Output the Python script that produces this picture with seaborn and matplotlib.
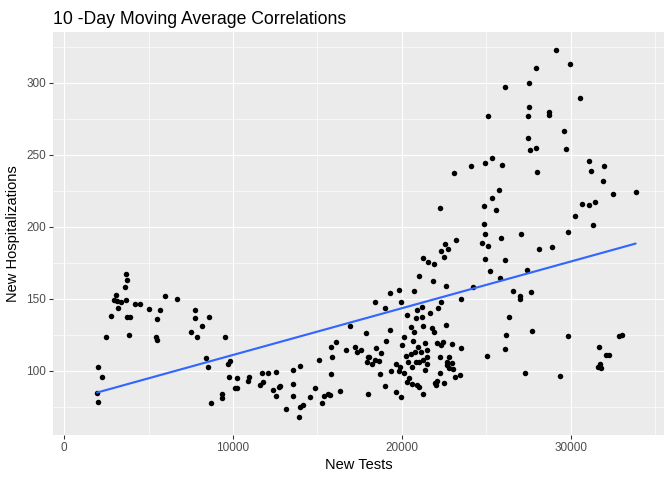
import numpy as np
import pandas as pd
import seaborn as sns
import matplotlib
matplotlib.use("Agg")
import matplotlib.pyplot as plt
from matplotlib.ticker import MultipleLocator

new_tests = [
    3670, 3730, 3610, 3080, 2940, 3140, 3370, 3670, 3200, 2780,
    3730, 3890, 3850, 2490, 4200, 4500, 5030, 5980, 6690, 5680,
    5500, 5440, 5500, 7750, 7750, 8580, 7520, 8170, 7870, 9530,
    8400, 8520, 8700, 9350, 9350, 9730, 9810, 9760, 2010, 2250,
    1950, 2010, 10240, 10120, 10240, 10950, 10890, 11720, 12070, 12540,
    11780, 11600, 12370, 12540, 12780, 12720, 13550, 13960, 13550, 13550,
    13140, 13910, 13960, 14140, 14560, 14850, 15090, 15270, 15380, 15620,
    15740, 15800, 15860, 15800, 16090, 16330, 16690, 16920, 17220, 17340,
    17570, 17870, 17930, 17990, 17990, 23200, 22540, 22310, 22720, 22490,
    21240, 21540, 21890, 21010, 21830, 22600, 19290, 19820, 20710, 24200,
    23490, 18400, 19940, 22310, 18990, 21180, 20890, 22130, 20300, 20830,
    21180, 21660, 19290, 20530, 20710, 21240, 21780, 21890, 22600, 20120,
    19050, 20000, 20650, 21360, 22070, 22310, 22430, 22960, 23490, 18460,
    18760, 20950, 21120, 21480, 20240, 20530, 20770, 18050, 18220, 18400,
    18640, 20350, 20830, 21010, 21240, 21480, 21480, 22250, 22780, 22660,
    22660, 22960, 22780, 23020, 19640, 19880, 19820, 20120, 20590, 21360,
    22250, 19350, 18700, 20410, 20300, 20590, 20890, 21010, 22070, 21950,
    22010, 22490, 23140, 23430, 18990, 19640, 19940, 21240, 29110, 29940,
    27930, 27510, 26090, 30530, 27510, 27460, 28700, 28700, 25090, 29590,
    27460, 27930, 27570, 29700, 25330, 24910, 25920, 24110, 27990, 31060,
    25740, 25330, 24850, 25560, 30650, 30240, 24850, 24910, 25860, 27040,
    29820, 31060, 24730, 25090, 28110, 28880, 24910, 26090, 25210, 27400,
    25800, 26570, 27630, 26980, 26980, 26330, 27690, 26150, 29820, 26090,
    25030, 27280, 29350, 31950, 31180, 31890, 32480, 33850, 31420, 31300,
    32840, 33020, 31660, 32070, 32250, 31600, 31720, 31770, 23080, 22250,
]

new_hosp = [
    167.2, 163.0, 158.1, 152.6, 149.1, 148.4, 147.7, 149.1, 143.6, 138.0,
    137.3, 137.3, 124.8, 123.4, 146.3, 146.3, 142.9, 151.9, 149.8, 142.2,
    135.9, 123.4, 121.3, 142.2, 136.6, 137.3, 126.9, 131.1, 123.4, 123.4,
    108.8, 102.6, 77.6, 83.8, 81.1, 104.9, 106.7, 95.6, 102.6, 95.6,
    84.5, 78.3, 94.9, 88.0, 88.0, 95.6, 92.9, 98.4, 98.4, 99.1,
    92.2, 90.1, 86.6, 82.4, 89.4, 88.7, 100.5, 103.3, 90.8, 82.4,
    73.4, 67.9, 74.8, 76.2, 81.7, 88.0, 107.4, 77.6, 82.4, 83.8,
    83.1, 97.7, 109.5, 116.5, 119.9, 85.9, 114.4, 131.1, 116.5, 113.0,
    114.4, 126.2, 106.1, 109.5, 83.8, 190.8, 188.0, 183.1, 184.5, 179.0,
    178.3, 175.5, 174.1, 165.8, 162.3, 158.8, 154.0, 156.1, 155.4, 158.1,
    149.8, 147.7, 147.7, 147.7, 143.6, 144.2, 142.2, 143.6, 138.7, 136.6,
    137.3, 140.1, 128.3, 130.4, 126.9, 131.1, 129.7, 126.9, 131.7, 123.4,
    120.6, 117.9, 120.6, 119.2, 119.2, 117.9, 119.9, 118.6, 115.8, 115.8,
    112.3, 116.5, 113.0, 114.4, 110.2, 111.6, 113.0, 109.5, 104.7, 107.4,
    106.7, 106.1, 106.1, 106.1, 107.4, 109.5, 104.7, 109.5, 109.5, 106.1,
    104.0, 105.4, 101.9, 101.2, 104.7, 102.6, 99.8, 98.4, 102.6, 100.5,
    98.4, 99.8, 97.7, 94.9, 92.2, 90.8, 90.1, 88.7, 92.9, 91.5,
    90.1, 91.5, 95.6, 97.0, 89.4, 85.2, 81.7, 83.8, 322.7, 313.0,
    310.2, 299.8, 297.0, 289.4, 283.1, 276.9, 279.7, 277.6, 276.9, 266.5,
    261.6, 254.7, 253.3, 254.0, 247.7, 244.2, 242.8, 242.2, 238.0, 245.6,
    225.5, 219.9, 214.4, 211.6, 215.8, 207.4, 201.9, 194.9, 192.2, 194.9,
    196.3, 215.1, 188.7, 186.6, 184.5, 185.9, 177.6, 176.9, 169.2, 169.9,
    164.4, 155.4, 154.7, 151.9, 149.8, 137.3, 127.6, 124.8, 124.1, 115.1,
    110.2, 98.4, 96.3, 242.2, 238.7, 231.7, 222.7, 224.1, 217.2, 201.2,
    124.1, 124.8, 116.5, 110.9, 110.9, 102.6, 104.7, 101.9, 237.3, 213.0,
]

x_ticks = [0, 10000, 20000, 30000]
x_tick_labels = ["0", "10000", "20000", "30000"]
y_ticks = [100, 150, 200, 250, 300]
y_tick_labels = ["100", "150", "200", "250", "300"]

title = "10 -Day Moving Average Correlations"
x_label = "New Tests"
y_label = "New Hospitalizations"

sns.set_theme(style="darkgrid")
plt.rcParams['font.family'] = ['Liberation Sans', 'DejaVu Sans']

df = pd.DataFrame({"tests": new_tests, "hosp": new_hosp})

W, H = 672, 480
fig = plt.figure(figsize=(W / 96, H / 96), dpi=96)
left, right, top, bottom = 52.7, 664.0, 32.0, 435.0
ax = fig.add_axes([left / W, 1 - bottom / H, (right - left) / W, (bottom - top) / H])
ax.set_facecolor("#EBEBEB")

sns.regplot(
    data=df, x="tests", y="hosp", ax=ax, ci=None,
    scatter_kws=dict(s=17, color="black", linewidths=0, alpha=1),
    line_kws=dict(color="#3366FF", lw=1.6),
)

ax.set_xlim(-680, 35530)
ax.set_ylim(55.4, 335.4)
ax.set_xticks(x_ticks)
ax.set_xticklabels(x_tick_labels)
ax.set_yticks(y_ticks)
ax.set_yticklabels(y_tick_labels)
ax.xaxis.set_minor_locator(MultipleLocator(5000))
ax.yaxis.set_minor_locator(MultipleLocator(25))
ax.grid(which="minor", color="white", lw=0.45)
ax.grid(which="major", color="white", lw=0.85)
ax.set_axisbelow(True)
ax.tick_params(which="minor", length=0)
ax.tick_params(which="major", length=2.74, width=0.8, color="#333333",
               labelcolor="#4D4D4D", labelsize=8.8, pad=2.2,
               bottom=True, left=True)
for s in ax.spines.values():
    s.set_visible(False)

ax.set_title(title, loc="left", fontsize=13.2, color="black", pad=6)
ax.set_xlabel(x_label, fontsize=11, color="black", labelpad=3)
ax.set_ylabel(y_label, fontsize=11, color="black", labelpad=5)

fig.savefig("out.png", dpi=96)
